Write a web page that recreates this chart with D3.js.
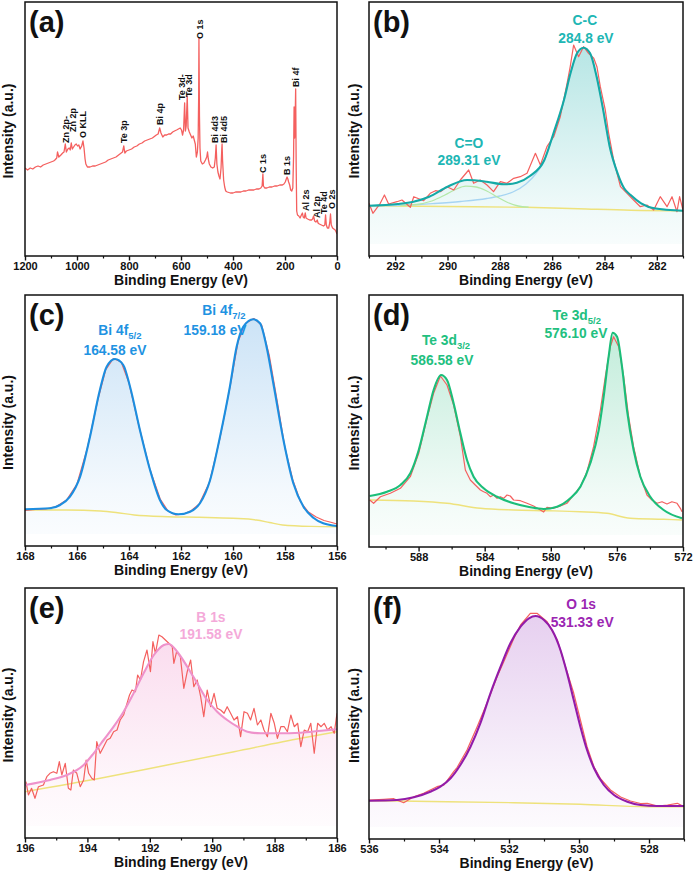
<!DOCTYPE html>
<html><head><meta charset="utf-8">
<script src="https://cdn.jsdelivr.net/npm/d3@7"></script>
<style>
body{margin:0;background:#fff}
svg{display:block}
text{font-family:"Liberation Sans",Arial,Helvetica,sans-serif;font-weight:bold}
</style>
</head><body>
<svg id="chart" width="694" height="878"></svg>
<script>
// ---------------- DATA (binding energy eV, intensity a.u.) ----------------
const surveyData = [[1200,88],[1190,86],[1180,88],[1170,87],[1160,89],[1150,90],[1140,89],[1130,91],[1120,92],[1110,93],[1100,94],[1090,95],[1085,96],[1078,98],[1075,104],[1070,99],[1062,101],[1055,103],[1050,104],[1045,112],[1041,104],[1035,107],[1030,108],[1026,106],[1022,113],[1018,107],[1013,109],[1008,111],[1003,112],[998,110],[993,111],[988,107],[982,110],[977,115],[973,108],[969,97],[966,92],[960,89],[950,89],[940,90],[930,90],[920,91],[910,92],[900,93],[890,94],[880,96],[870,97],[860,98],[850,99],[840,101],[830,103],[825,104],[820,110],[816,103],[810,105],[800,106],[790,107],[780,109],[770,110],[760,112],[750,113],[740,115],[730,116],[720,117],[710,118],[700,120],[695,121],[688,122],[682,128],[677,123],[670,119],[663,121],[655,121],[648,122],[640,122],[632,124],[625,125],[617,126],[610,127],[603,128],[598,126],[594,121],[590,126],[586,153],[583,125],[580,130],[576,160],[573,128],[568,124],[563,121],[558,118],[553,120],[549,116],[545,112],[541,99],[537,104],[534,118],[532,160],[531,218],[529,140],[527,108],[524,95],[518,92],[512,93],[506,96],[501,99],[498,104],[495,97],[491,92],[485,89],[478,88],[472,89],[468,98],[465,111],[462,92],[458,84],[454,80],[450,77],[446,88],[443,108],[442,112],[440,95],[436,76],[432,69],[428,65],[422,64],[410,63],[400,63],[390,64],[380,64],[370,64],[360,65],[350,65],[340,66],[330,66],[320,66],[310,67],[300,67],[293,68],[288,70],[285,82],[283,70],[278,68],[270,68],[260,69],[250,69],[240,70],[230,70],[220,71],[210,71],[204,72],[199,74],[195,77],[192,79],[189,77],[186,74],[182,71],[178,66],[174,65],[170,68],[167,100],[165,149],[163,118],[161,135],[159,167],[157,90],[155,45],[152,41],[147,40],[142,38],[137,41],[133,43],[130,39],[126,38],[122,43],[119,38],[113,37],[105,36],[98,36],[94,37],[90,40],[86,35],[81,34],[76,36],[73,33],[68,32],[60,31],[52,30],[47,31],[44,41],[41,31],[37,28],[32,28],[28,33],[25,42],[22,31],[17,28],[12,27],[7,26],[3,24],[0,22]];
const surveyLabels = [["Zn 2p-",1042,113],["Zn 2p",1015,124],["O KLL",977,118],["Te 3p",819,113],["Bi 4p",681,131],["Te 3d-",596,156],["Te 3d",569,159],["O 1s",527,217],["Bi 4d3",469,113],["Bi 4d5",435,113],["C 1s",285,83],["B 1s",192,81],["Bi 4f",158,169],["Al 2s",119,45],["Al 2p",77,38],["Te 4d",50,42],["O 2s",19,47]];

const bRaw = [[293,52.7],[292.85,42.7],[292.57,52.7],[292.41,61],[292.25,52],[291.93,54.3],[291.74,56],[291.42,48.7],[291.29,59.3],[290.91,55.3],[290.66,62.7],[290.46,65.3],[290.27,64.3],[290.02,69.3],[289.76,66],[289.51,76],[289.19,86],[289,72.7],[288.75,76],[288.49,71],[288.24,64.3],[287.98,74.3],[287.73,72.7],[287.47,77.7],[287.22,79.3],[286.96,82.7],[286.64,102.7],[286.45,91],[286.2,109.3],[285.94,119.3],[285.69,139.3],[285.43,172.7],[285.31,189.3],[285.18,211],[284.99,199.3],[284.8,209.3],[284.61,202.7],[284.41,197.7],[284.29,189.3],[284.16,169.3],[283.97,146],[283.84,122.7],[283.65,96],[283.39,69.3],[283.14,62.7],[282.89,56],[282.63,49.3],[282.38,51],[282.12,46],[281.87,59.3],[281.61,49.3],[281.42,59.3],[281.23,44.3],[281.13,59.3],[281,46]];
const bEnv = [[293,50.3],[291.9,52],[291.3,54.3],[290.7,59.3],[290,69.3],[289.25,76],[288.5,74.3],[287.85,71.7],[287.35,73.3],[286.85,80],[286.3,96],[285.95,122.7],[285.55,156],[285.3,182.7],[285.05,202.7],[284.8,208.3],[284.55,202.7],[284.3,179.3],[284.05,146],[283.8,109.3],[283.5,82.7],[283.25,67.7],[283,61],[282.6,52.7],[282.1,47.7],[281,45.3]];
const bBase = [[293,50.3],[291,49.8],[289,49.3],[287,48.7],[285,47.3],[283,45.8],[281,45.3]];
const bCC = [[293,50.3],[291.5,51],[290.5,52.5],[289.5,54.5],[288.5,57.5],[288,60],[287.5,64],[287,72],[286.6,83],[286.3,95],[285.95,122],[285.55,155.5],[285.3,182.5],[285.05,202.5],[284.8,208],[284.55,202.5],[284.3,179],[284.05,146],[283.8,109],[283.5,82.5],[283.25,67.5],[283,60.5],[282.6,52.5],[282.1,47.5],[281,45.3]];
const bCO = [[291.8,50.5],[291.2,51.5],[290.6,55],[290.1,61],[289.7,66.5],[289.3,69.8],[288.9,69],[288.5,65],[288.1,59],[287.7,53.5],[287.3,50],[286.9,48.8]];
const bText = [["C-C","",284.75,231],["284.8 eV","",284.71,213],["C=O","",289.18,108],["289.31 eV","",289.18,91]];

const cRaw = [[168,35.5],[167.6,36.5],[167.2,37],[166.8,39.5],[166.4,46],[166,62],[165.6,98],[165.2,146],[164.9,176],[164.6,187.5],[164.3,184],[164,163],[163.6,118],[163.2,77],[162.8,47],[162.5,35],[162.2,31],[161.9,32],[161.6,35.5],[161.3,42],[160.9,64],[160.5,108],[160.1,161],[159.8,205],[159.5,223],[159.2,227.5],[158.9,221],[158.6,190],[158.3,145],[158,98],[157.7,66],[157.4,44],[157.1,34],[156.8,29],[156.5,25.5],[156.2,23.5],[156,22]];
const cEnv = [[168,36.7],[167.04,37.7],[166.65,41],[166.27,49.3],[165.88,69.3],[165.5,109.3],[165.12,156],[164.86,179.3],[164.54,187],[164.22,181],[163.96,159.3],[163.58,116],[163.19,76],[162.81,46],[162.55,36],[162.1,31.7],[161.65,34.3],[161.27,42.7],[160.88,66],[160.5,109.3],[160.12,159.3],[159.86,199.3],[159.6,219.3],[159.22,226.7],[158.96,222.7],[158.71,199.3],[158.45,162.7],[158.06,106],[157.68,62.7],[157.29,39.3],[156.91,28.3],[156.53,22.7],[156,20]];
const cBase = [[168,36],[166.4,36],[165.1,35],[164.5,33.5],[163.8,31],[162.5,29.3],[161.3,28.7],[160,27.7],[159.1,26],[158.6,23.5],[158.1,21],[157,19.6],[156,19.3]];
const cText = [["Bi 4f","5/2",164.35,211],["164.58 eV","",164.54,191],["Bi 4f","7/2",160.35,231],["159.18 eV","",160.69,211]];

const dRaw = [[590.96,47],[590.72,43.7],[590.31,50.3],[589.71,53.7],[589.1,58.7],[588.5,70.3],[587.99,93.7],[587.49,128.7],[587.09,153.7],[586.68,171],[586.28,162],[585.88,142],[585.47,110.3],[585.17,77],[584.87,67],[584.57,62],[584.26,57],[584.06,55.3],[583.86,53.7],[583.66,50.3],[583.46,52],[583.25,48.7],[583.05,50.3],[582.85,48.7],[582.65,52],[582.45,51],[582.25,47],[581.84,46.3],[581.44,43.7],[581.04,41],[580.63,37],[580.43,35],[580.23,39.7],[579.83,38.7],[579.42,41],[579.02,43.7],[578.62,52],[578.21,60.3],[577.81,75.3],[577.41,100.3],[577,137],[576.7,170.3],[576.4,200.3],[576.2,210.3],[575.89,200.3],[575.59,170.3],[575.29,130.3],[574.99,100.3],[574.58,70.3],[574.18,52],[573.88,47],[573.57,43.7],[573.27,45.3],[572.97,43],[572.67,45.3],[572.36,43.7],[572.16,38.7],[572.06,35.3]];
const dEnv = [[590.96,51],[589.91,55.3],[589.1,62],[588.5,73.7],[587.99,97],[587.49,130.3],[587.09,157],[586.64,172],[586.28,167],[585.88,143.7],[585.47,113.7],[585.07,87],[584.67,70.3],[584.06,58.7],[583.25,50.3],[582.25,43.7],[581.24,39.7],[580.43,38],[579.62,40.3],[578.82,48.7],[578.21,60.3],[577.61,83.7],[577.1,117],[576.8,150.3],[576.5,190.3],[576.26,214.3],[575.99,210.3],[575.69,180.3],[575.39,137],[574.99,97],[574.58,70.3],[573.98,50.3],[573.17,37],[572.06,28.7]];
const dBase = [[590.96,47],[588.3,46],[586.28,43.7],[584.26,38.7],[582.25,37],[580.23,36.3],[578.21,35.3],[576.6,33.7],[575.19,28.7],[573.17,27.7],[572.06,27]];
const dText = [["Te 3d","3/2",586.34,202],["586.58 eV","",586.58,182],["Te 3d","5/2",578.42,227],["576.10 eV","",578.48,209]];

const eRaw = [[195.97,56.3],[195.89,43],[195.79,49.7],[195.68,39.7],[195.57,51.3],[195.41,53],[195.3,61.3],[195.2,64.7],[195.09,66.3],[194.98,64.7],[194.9,76.3],[194.82,63],[194.71,74.7],[194.61,49.7],[194.53,48],[194.45,68],[194.34,64.7],[194.23,51.3],[194.12,58],[194.04,78],[193.96,64.7],[193.86,59.7],[193.78,58],[193.7,96.3],[193.59,84.7],[193.48,91.3],[193.37,98],[193.27,99.7],[193.16,106.3],[193.05,108],[192.95,118],[192.84,123],[192.73,134.7],[192.65,143],[192.57,148],[192.46,146.3],[192.39,163],[192.3,158],[192.2,176.3],[192.09,188],[191.98,166.3],[191.9,196.3],[191.82,184.7],[191.71,203],[191.61,201.3],[191.5,198],[191.39,194.7],[191.28,191.3],[191.23,174.7],[191.14,186.3],[191.02,181.3],[190.91,149.7],[190.8,166.3],[190.69,178],[190.59,151.3],[190.48,158],[190.37,141.3],[190.27,121.3],[190.16,148],[190.05,131.3],[189.94,144.7],[189.84,129.7],[189.73,128],[189.62,124.7],[189.52,131.3],[189.41,124.7],[189.3,118],[189.19,121.3],[189.09,101.3],[188.98,126.3],[188.87,124.7],[188.77,118],[188.66,129.7],[188.55,113],[188.44,118],[188.34,108],[188.23,101.3],[188.12,124.7],[188.01,114.7],[187.91,99.7],[187.8,111.3],[187.69,111.3],[187.59,106.3],[187.48,123],[187.37,111.3],[187.26,114.7],[187.16,91.3],[187.05,108],[186.94,106.3],[186.84,114.7],[186.73,84.7],[186.62,114.7],[186.51,111.3],[186.41,114.7],[186.3,108],[186.19,111.3],[186.09,104.7],[186,124.7]];
const eEnv = [[196,53],[195.2,58],[194.66,63],[194.12,73],[193.8,84.7],[193.48,98],[193.16,111.3],[192.84,126.3],[192.52,144.7],[192.2,164.7],[191.87,183],[191.55,193],[191.39,194],[191.12,186.3],[190.8,171.3],[190.48,154.7],[190.16,138],[189.84,126.3],[189.52,118],[189.19,111.3],[188.87,106.3],[188.44,104.7],[187.91,104.7],[187.16,105.3],[186.51,107.3],[186,108.7]];
const eBase = [[196,46.3],[193.59,59.7],[191.44,73],[189.3,86.3],[187.16,99.7],[186,106.3]];
const eText = [["B 1s","",190.04,216],["191.58 eV","",190.04,199]];

const fRaw = [[536,39],[535.58,39.7],[535.29,40.3],[535.01,36.3],[534.72,42.3],[534.44,45.7],[534.06,52.3],[533.86,54],[533.58,67.3],[533.48,71.7],[533.2,89],[532.91,112.3],[532.63,135.7],[532.34,162.3],[532.15,177.3],[531.86,200.7],[531.67,214],[531.39,225.7],[531.2,225.7],[530.91,217.3],[530.62,199],[530.43,177.3],[530.15,145.7],[529.96,119],[529.77,92.3],[529.57,72],[529.38,60],[529.1,49],[528.81,42],[528.53,38],[528.24,35.5],[528.05,35.7],[527.76,33],[527.47,34],[527.19,35.7],[527,32.3]];
const fEnv = [[536,38.3],[535.2,39],[534.72,41.7],[534.25,47.3],[533.96,52.3],[533.67,60.7],[533.39,74],[533.1,92.3],[532.82,115.7],[532.53,145.7],[532.24,172.3],[531.96,195.7],[531.67,212.3],[531.43,220.7],[531.24,223],[531,219],[530.77,209],[530.53,189],[530.34,165.7],[530.15,139],[529.96,112.3],[529.77,89],[529.57,70.7],[529.29,54],[529,44],[528.62,37.3],[528.24,34],[527.76,33],[527,33]];
const fBase = [[536,38.3],[533.77,37.3],[531.86,36.3],[529.96,34.7],[528.05,32.3],[527,32.3]];
const fText = [["O 1s","",529.94,230],["531.33 eV","",529.91,212]];

const ticksA = [1200,1000,800,600,400,200,0],  minorA = [1100,900,700,500,300,100];
const ticksB = [292,290,288,286,284,282],      minorB = [293,291,289,287,285,283,281];
const ticksC = [168,166,164,162,160,158,156],  minorC = [167,165,163,161,159,157];
const ticksD = [588,584,580,576,572],          minorD = [590,586,582,578,574];
const ticksE = [196,194,192,190,188,186],      minorE = [195,193,191,189,187];
const ticksF = [536,534,532,530,528],          minorF = [535,533,531,529,527];

// ---------------- STYLE ----------------
const RAW = "#F4605F", BASE = "#EEE27C";
const svg = d3.select("#chart");
const defs = svg.append("defs");

const panels = [
  {id:"a", letter:"(a)", left:25, right:337, top:2, bottom:256, xd:[1200,0], major:ticksA, minor:minorA, raw:surveyData, rawW:1.3},
  {id:"b", letter:"(b)", left:369, right:683, top:2, bottom:256, xd:[293,281], major:ticksB, minor:minorB, raw:bRaw, env:bEnv, base:bBase,
   comps:[[bCC,"#A6D4F2"],[bCO,"#B4E8A8"]], col:"#14A9A6", txt:"#20B6B4", fill:"#2BB5B2", text:bText},
  {id:"c", letter:"(c)", left:25, right:337, top:295, bottom:546, xd:[168,156], major:ticksC, minor:minorC, raw:cRaw, env:cEnv, base:cBase,
   col:"#1C8EE0", txt:"#1F93E2", fill:"#6AAEE6", text:cText},
  {id:"d", letter:"(d)", left:369, right:683, top:295, bottom:547, xd:[591,572], major:ticksD, minor:minorD, raw:dRaw, env:dEnv, base:dBase,
   col:"#1BBE79", txt:"#22C07F", fill:"#4CC894", text:dText},
  {id:"e", letter:"(e)", left:25, right:337, top:588, bottom:838, xd:[196,186], major:ticksE, minor:minorE, raw:eRaw, env:eEnv, base:eBase,
   col:"#EE92CB", txt:"#F4A9D9", fill:"#F29BCF", text:eText},
  {id:"f", letter:"(f)", left:369, right:684, top:588, bottom:839, xd:[536,527], major:ticksF, minor:minorF, raw:fRaw, env:fEnv, base:fBase,
   col:"#921BA9", txt:"#9B25B2", fill:"#B774D2", text:fText}
];

panels.forEach(p => {
  const g = svg.append("g");
  const x = d3.scaleLinear().domain(p.xd).range([p.left, p.right]);
  const y = d3.scaleLinear().domain([0, p.bottom - p.top]).range([p.bottom, p.top]);
  defs.append("clipPath").attr("id", "clip-" + p.id)
    .append("rect").attr("x", p.left).attr("y", p.top).attr("width", p.right - p.left).attr("height", p.bottom - p.top);
  const plot = g.append("g").attr("clip-path", `url(#clip-${p.id})`);
  const smooth = d3.line().x(d => x(d[0])).y(d => y(d[1])).curve(d3.curveMonotoneX);
  const straight = d3.line().x(d => x(d[0])).y(d => y(d[1]));

  if (p.env) {
    const grad = defs.append("linearGradient").attr("id", "grad-" + p.id)
      .attr("gradientUnits", "userSpaceOnUse").attr("x1", 0).attr("x2", 0)
      .attr("y1", y(d3.max(p.env, d => d[1]))).attr("y2", p.bottom);
    grad.append("stop").attr("offset", 0).attr("stop-color", p.fill).attr("stop-opacity", 0.34);
    grad.append("stop").attr("offset", 0.75).attr("stop-color", p.fill).attr("stop-opacity", 0.08);
    grad.append("stop").attr("offset", 1).attr("stop-color", p.fill).attr("stop-opacity", 0.02);
    const area = d3.area().x(d => x(d[0])).y0(y(12)).y1(d => y(d[1])).curve(d3.curveMonotoneX);
    plot.append("path").datum(p.env).attr("d", area).attr("fill", `url(#grad-${p.id})`);
    plot.append("path").datum(p.base).attr("d", smooth).attr("fill", "none").attr("stroke", BASE).attr("stroke-width", 1.4);
    (p.comps || []).forEach(c => {
      plot.append("path").datum(c[0]).attr("d", smooth).attr("fill", "none").attr("stroke", c[1]).attr("stroke-width", 1.3);
    });
  }
  plot.append("path").datum(p.raw).attr("d", straight).attr("fill", "none")
    .attr("stroke", RAW).attr("stroke-width", p.rawW || 1.2).attr("stroke-linejoin", "round");
  if (p.env) {
    plot.append("path").datum(p.env).attr("d", smooth).attr("fill", "none").attr("stroke", p.col).attr("stroke-width", 2.1);
  }

  // frame
  g.append("rect").attr("x", p.left).attr("y", p.top).attr("width", p.right - p.left).attr("height", p.bottom - p.top)
    .attr("fill", "none").attr("stroke", "#111").attr("stroke-width", 1.5);

  // axes
  const ax = g.append("g").attr("transform", `translate(0,${p.bottom})`)
    .call(d3.axisBottom(x).tickValues(p.major).tickSize(4.5).tickPadding(2).tickSizeOuter(0).tickFormat(d3.format("d")));
  ax.select(".domain").remove();
  ax.selectAll(".tick line").attr("stroke", "#111").attr("stroke-width", 1.4);
  ax.selectAll(".tick text").attr("font-size", 11).attr("fill", "#111")
    .attr("font-family", '"Liberation Sans",Arial,sans-serif').attr("font-weight", "bold");
  const mx = g.append("g").attr("transform", `translate(0,${p.bottom})`)
    .call(d3.axisBottom(x).tickValues(p.minor).tickSize(2.5).tickSizeOuter(0).tickFormat(""));
  mx.select(".domain").remove();
  mx.selectAll(".tick line").attr("stroke", "#111").attr("stroke-width", 1.2);

  // titles
  g.append("text").attr("x", (p.left + p.right) / 2).attr("y", p.bottom + 29).attr("text-anchor", "middle")
    .attr("font-size", 14).attr("fill", "#111").text("Binding Energy (eV)");
  const yl = p.left < 100 ? 12.5 : 358.5;
  g.append("text").attr("transform", `translate(${yl},${(p.top + p.bottom) / 2 + 2}) rotate(-90)`)
    .attr("text-anchor", "middle").attr("font-size", 14).attr("fill", "#111").text("Intensity (a.u.)");
  g.append("text").attr("x", p.left + 4).attr("y", p.top + 29.5).attr("font-size", 29).attr("fill", "#111").text(p.letter);

  // annotations
  if (p.text) {
    p.text.forEach(t => {
      const tx = g.append("text").attr("x", x(t[2])).attr("y", y(t[3])).attr("text-anchor", "middle")
        .attr("font-size", 13.8).attr("fill", p.txt);
      tx.append("tspan").text(t[0]);
      if (t[1]) tx.append("tspan").attr("font-size", 9.5).attr("dy", 4).text(t[1]);
    });
  }
  if (p.id === "a") {
    surveyLabels.forEach(l => {
      g.append("text").attr("transform", `translate(${x(l[1]) + 3.2},${y(l[2])}) rotate(-90)`)
        .attr("font-size", 9).attr("fill", "#111").text(l[0]);
    });
  }
});
</script>
</body></html>
